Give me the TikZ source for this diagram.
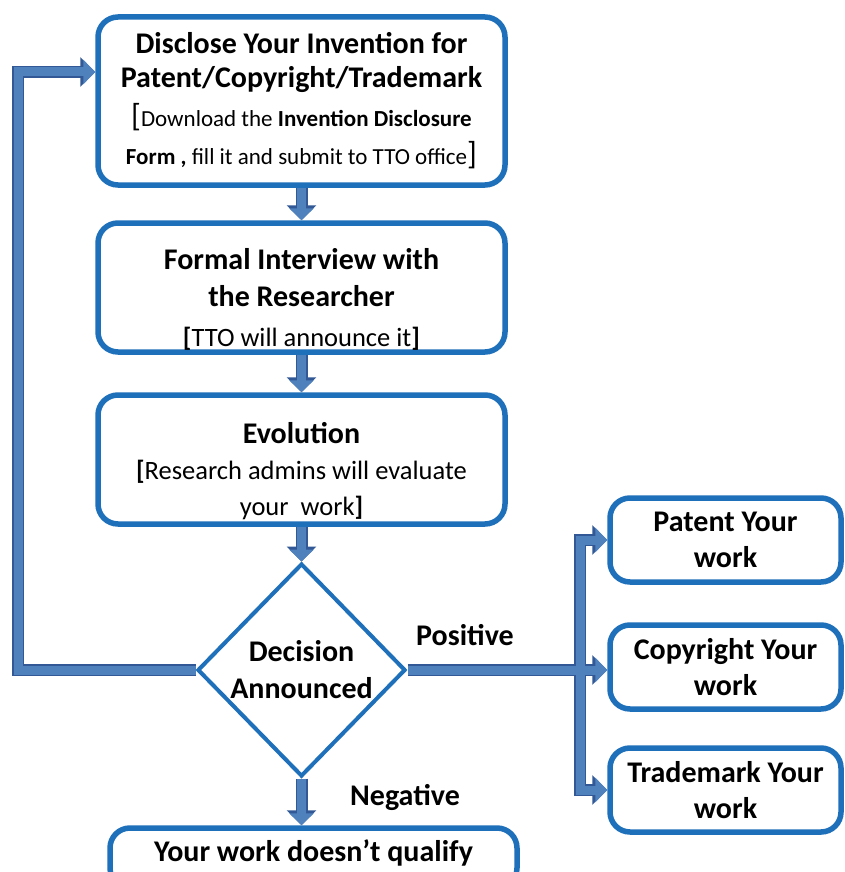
\documentclass[tikz,border=0pt]{standalone}
\usepackage{fontspec}
\setmainfont{Carlito}
\usetikzlibrary{arrows.meta,shapes.geometric}
\definecolor{boxblue}{RGB}{31,112,186}
\definecolor{arrblue}{RGB}{79,129,189}
\definecolor{arrdark}{RGB}{50,88,150}
\newcommand\bigbrk[1]{{\fontsize{32}{32}\selectfont #1}}
\begin{document}
\begin{tikzpicture}[x=1pt,y=-1pt,
  box/.style={draw=boxblue, line width=5.5pt, rounded corners=20pt, fill=white, inner sep=0pt, align=center},
  blkdk/.style={draw=arrdark, line width=12pt, -{Triangle[width=29pt,length=15pt]}, line join=miter},
  blklt/.style={draw=arrblue, line width=9pt, -{Triangle[width=24pt,length=12pt]}, line join=miter},
  shaftdk/.style={draw=arrdark, line width=12pt, line join=miter},
  shaftlt/.style={draw=arrblue, line width=9pt, line join=miter},
  lbl/.style={font=\fontsize{30}{36}\selectfont\bfseries, inner sep=0pt}
]
\useasboundingbox (0,0) rectangle (844,872);
\clip (0,0) rectangle (844,872);
\fill[white] (0,0) rectangle (844,872);

% main column
\node[box, minimum width=407pt, minimum height=168pt, font=\fontsize{30}{34}\selectfont] (b1) at (301.5,101)
 {\textbf{Disclose Your Invention for}\\\textbf{Patent/Copyright/Trademark}\\[5pt]
  {\fontsize{23}{24}\selectfont\bigbrk{[}Download the \textbf{Invention Disclosure}}\\[4pt]
  {\fontsize{23}{24}\selectfont\textbf{Form ,} fill it and submit to TTO office\bigbrk{]}}};
\node[box, minimum width=407pt, minimum height=129pt, font=\fontsize{30}{37}\selectfont] (b2) at (301.5,287.5)
 {\rule{0pt}{44pt}\textbf{Formal Interview with}\\\textbf{the Researcher}\\[3pt]
  {\fontsize{26.5}{27}\selectfont\textbf{[}TTO will announce it\textbf{]}}};
\node[box, minimum width=407pt, minimum height=129pt, font=\fontsize{30}{36}\selectfont] (b3) at (301.5,459.5)
 {\rule{0pt}{44pt}\textbf{Evolution}\\
  {\fontsize{26.5}{27}\selectfont\textbf{[}Research admins will evaluate}\\
  {\fontsize{26.5}{27}\selectfont your\ \ work\textbf{]}}};
\node[diamond, draw=boxblue, line width=4pt, fill=white, inner sep=0pt, minimum width=208pt, minimum height=213pt,
  align=center, font=\fontsize{30}{37}\selectfont\bfseries] (dec) at (301.5,670) {Decision\\Announced};
\node[box, minimum width=407pt, minimum height=60pt] (no) at (313.5,858) {};
\node[lbl] (notxt) at (313.5,853) {Your work doesn’t qualify};

% right column
\node[box, minimum width=231pt, minimum height=84pt, font=\fontsize{30}{36}\selectfont\bfseries] (pat) at (725.5,540) {Patent Your\\work};
\node[box, minimum width=231pt, minimum height=84pt, font=\fontsize{30}{36}\selectfont\bfseries] (cop) at (725.5,667) {Copyright Your\\work};
\node[box, minimum width=231pt, minimum height=84pt, font=\fontsize{30}{36}\selectfont\bfseries] (tm) at (725.5,790) {Trademark Your\\work};

% labels
\node[lbl] (pos) at (465,635) {Positive};
\node[lbl] (neg) at (405,797) {Negative};

% connectors
\coordinate (fbl) at (18,670);
\coordinate (fbt) at (18,72);
\coordinate (br) at (580,670);
\coordinate (bt) at (580,540);
\coordinate (bb) at (580,790);
\foreach \p in {dk,lt}{
  \draw[blk\p] (b1.south) -- (b2.north);
  \draw[blk\p] (b2.south) -- (b3.north);
  \draw[blk\p] (b3.south) -- (dec.north);
  \draw[blk\p] (dec.south) -- (dec.south |- no.north);
  \draw[blk\p] (dec.west) -- (fbl) -- (fbt) -- (fbt -| b1.west);
  \draw[shaft\p] (dec.east) -- (br);
  \draw[shaft\p, line cap=rect] (bt) -- (bb);
  \draw[blk\p] (bt) -- (pat.west);
  \draw[blk\p] (br) -- (br -| cop.west);
  \draw[blk\p] (bb) -- (tm.west);
}
\end{tikzpicture}
\end{document}
